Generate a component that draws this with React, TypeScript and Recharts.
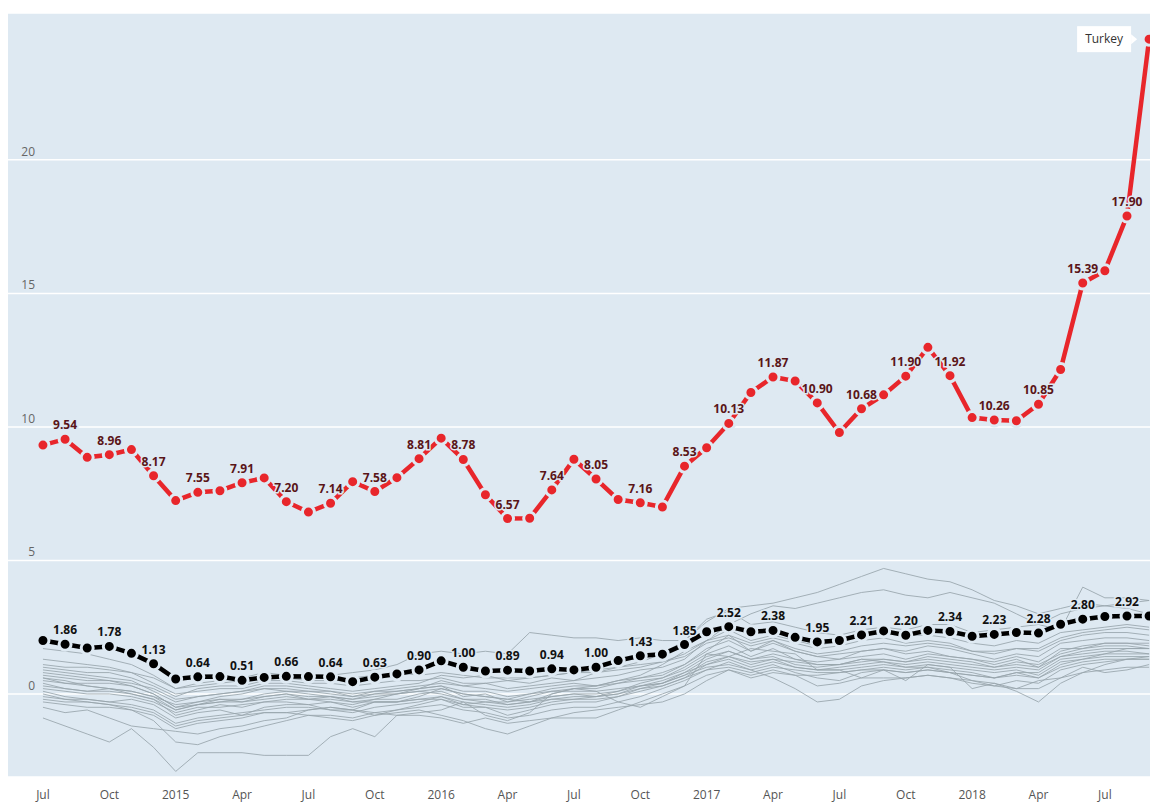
import React from "react";
import { LineChart, Line, XAxis, YAxis, CartesianGrid, LabelList } from "recharts";

// Months: index 0 = Jul 2014 ... index 50 = Sep 2018
const monthIndex: number[] = Array.from({ length: 51 }, (_, i) => i);

const xTickIndex = [0, 3, 6, 9, 12, 15, 18, 21, 24, 27, 30, 33, 36, 39, 42, 45, 48];
const xTickLabels = ["Jul", "Oct", "2015", "Apr", "Jul", "Oct", "2016", "Apr", "Jul", "Oct", "2017", "Apr", "Jul", "Oct", "2018", "Apr", "Jul"];
const yTicks = [0, 5, 10, 15, 20];

const turkey = [
  9.32, 9.54, 8.86, 8.96, 9.15, 8.17,
  7.24, 7.55, 7.61, 7.91, 8.09, 7.2, 6.81, 7.14, 7.95, 7.58, 8.1, 8.81,
  9.58, 8.78, 7.46, 6.57, 6.58, 7.64, 8.79, 8.05, 7.28, 7.16, 7.0, 8.53,
  9.22, 10.13, 11.29, 11.87, 11.72, 10.9, 9.79, 10.68, 11.2, 11.9, 12.98, 11.92,
  10.35, 10.26, 10.23, 10.85, 12.15, 15.39, 15.85, 17.9, 24.52,
];

const reference = [
  2.0, 1.86, 1.72, 1.78, 1.52, 1.13,
  0.56, 0.64, 0.65, 0.51, 0.62, 0.66, 0.65, 0.64, 0.46, 0.63, 0.75, 0.9,
  1.24, 1.0, 0.86, 0.89, 0.86, 0.94, 0.9, 1.0, 1.25, 1.43, 1.49, 1.85,
  2.33, 2.52, 2.33, 2.38, 2.12, 1.95, 2.0, 2.21, 2.36, 2.2, 2.38, 2.34,
  2.16, 2.23, 2.3, 2.28, 2.61, 2.8, 2.9, 2.92, 2.92,
];

const grey01 = [1.7,1.6,1.5,1.3,1.1,0.7, 0.2,0.4,0.5,0.6,0.8,0.7,0.6,0.7,0.8,0.9,1.1,1.5, 1.6,1.5,1.6,1.5,2.3,2.2,2.1,2.1,2.0,2.1,2.0,2.0, 2.8,3.1,2.6,2.7,2.5,2.3,2.2,2.4,2.5,2.4,2.6,2.6, 2.3,2.4,2.5,2.6,3.0,3.2,3.3,3.4,3.5];
const grey02 = [0.6,0.4,0.3,0.2,0.1,-0.1, -0.6,-0.4,-0.2,-0.3,-0.1,0.0,-0.2,-0.1,-0.3,-0.2,0.0,0.2, 0.5,0.3,0.4,0.5,0.4,0.6,0.5,0.8,1.0,1.2,1.5,2.0, 2.7,3.2,3.3,3.4,3.6,3.8,4.1,4.4,4.7,4.5,4.3,4.2, 3.9,3.5,3.3,3.0,3.2,3.4,3.3,3.2,3.0];
const grey03 = [0.1,-0.1,-0.2,-0.3,-0.2,-0.4, -0.9,-0.7,-0.6,-0.8,-0.5,-0.4,-0.4,-0.6,-0.6,-0.3,-0.3,-0.1, 0.2,0.0,-0.1,-0.2,-0.3,0.0,0.2,0.3,0.5,0.7,1.1,1.6, 2.0,2.6,3.0,3.3,3.2,3.4,3.6,3.8,3.9,3.7,3.6,3.8, 3.6,3.4,3.0,2.6,2.4,4.0,3.6,3.6,3.5];
const grey04 = [-0.9,-1.2,-1.5,-1.8,-1.3,-2.0, -2.9,-2.2,-2.2,-2.2,-2.3,-2.3,-2.3,-1.6,-1.3,-1.6,-0.8,-0.7, -0.6,-0.3,-0.8,-1.0,-0.7,0.0,0.2,0.1,-0.3,-0.5,-0.1,0.3, 1.5,1.4,1.7,1.6,1.5,0.9,0.9,0.6,0.9,0.5,1.1,1.0, 0.2,0.4,0.2,0.5,0.6,1.0,0.8,0.9,1.1];
const grey05 = [0.9,0.8,0.7,0.6,0.5,0.1, -0.3,-0.1,0.0,0.1,0.3,0.3,0.2,0.1,0.0,0.1,0.2,0.3, 0.4,0.3,0.2,0.1,0.2,0.3,0.4,0.3,0.5,0.6,0.8,1.1, 1.7,2.0,1.6,1.9,1.6,1.4,1.5,1.6,1.7,1.6,1.8,1.7, 1.5,1.3,1.5,1.4,1.9,2.0,2.1,2.1,2.0];
const grey06 = [0.5,0.4,0.4,0.4,0.3,0.0, -0.5,-0.3,-0.1,0.0,0.2,0.2,0.1,0.1,-0.1,0.1,0.1,0.2, 0.3,-0.1,0.0,-0.3,-0.1,0.1,0.2,0.2,0.4,0.6,0.7,1.1, 1.6,2.2,1.6,2.0,1.6,1.4,1.3,1.6,1.7,1.5,1.6,1.4, 1.3,1.2,1.4,1.2,1.7,1.7,1.9,1.9,1.8];
const grey07 = [0.2,0.1,0.0,0.0,-0.1,-0.3, -0.7,-0.5,-0.5,-0.4,-0.3,-0.3,-0.4,-0.3,-0.5,-0.3,-0.3,-0.2, -0.2,-0.5,-0.5,-0.8,-0.6,-0.4,-0.3,-0.3,-0.1,0.2,0.4,0.8, 1.3,1.6,1.3,1.4,1.1,1.0,1.1,1.3,1.3,1.2,1.4,1.3, 1.2,1.0,1.2,1.1,1.5,1.7,1.8,1.8,1.7];
const grey08 = [1.0,0.9,0.8,0.8,0.6,0.3, -0.1,0.2,0.3,0.3,0.5,0.5,0.4,0.4,0.3,0.4,0.5,0.5, 0.6,0.4,0.4,0.2,0.3,0.4,0.5,0.6,0.7,0.9,1.0,1.3, 2.0,2.2,1.9,2.1,1.9,1.7,1.8,2.0,2.1,1.9,2.0,1.9, 1.6,1.6,1.7,1.6,2.0,2.2,2.3,2.3,2.2];
const grey09 = [-0.3,-0.4,-0.5,-0.5,-0.6,-0.8, -1.3,-1.1,-1.0,-0.9,-0.7,-0.7,-0.8,-0.8,-0.9,-0.7,-0.6,-0.5, -0.4,-0.6,-0.7,-0.9,-0.8,-0.6,-0.5,-0.5,-0.3,-0.1,0.2,0.5, 0.9,1.2,0.9,1.1,0.8,0.6,0.5,0.8,0.9,0.8,0.9,0.8, 0.7,0.6,0.8,0.6,1.1,1.3,1.4,1.4,1.4];
const grey10 = [0.4,0.2,0.1,0.2,0.0,-0.2, -0.8,-0.6,-0.4,-0.5,-0.3,-0.2,-0.2,-0.3,-0.4,-0.2,-0.2,0.0, 0.1,-0.2,-0.3,-0.4,-0.3,-0.1,0.0,0.0,0.1,0.4,0.6,1.0, 1.5,1.8,1.4,1.7,1.3,1.2,1.3,1.4,1.5,1.3,1.5,1.4, 1.3,1.1,1.3,1.0,1.6,1.8,1.9,1.9,1.9];
const grey11 = [-0.5,-0.7,-0.6,-0.9,-1.2,-1.3, -1.4,-1.5,-1.3,-1.2,-1.0,-0.9,-0.6,-0.5,-0.6,-0.8,-0.7,-0.6, -0.8,-1.0,-1.3,-1.5,-1.2,-0.9,-0.7,-0.6,-0.5,-0.4,-0.3,0.0, 0.5,0.9,0.7,0.9,0.7,0.3,0.4,0.6,0.6,0.6,0.7,0.6, 0.4,0.3,0.5,0.4,0.9,1.1,1.2,1.3,1.3];
const grey12 = [0.0,-0.2,-0.3,-0.4,-0.6,-1.0, -1.8,-1.9,-1.6,-1.4,-1.2,-1.0,-0.8,-0.9,-1.0,-0.8,-0.6,-0.4, -0.2,-0.4,-0.5,-0.6,-0.5,-0.3,-0.2,-0.1,0.0,0.3,0.4,0.7, 1.2,1.4,1.2,1.3,1.0,0.9,1.0,1.1,1.2,1.1,1.2,1.1, 1.0,0.9,1.0,0.9,1.4,1.5,1.6,1.6,1.5];
const grey13 = [1.3,1.2,1.1,1.0,0.8,0.4, 0.0,0.1,0.2,0.2,0.4,0.4,0.3,0.2,0.1,0.2,0.3,0.4, 0.7,0.6,0.7,0.5,0.6,0.7,0.8,0.9,1.0,1.1,1.2,1.5, 2.0,2.4,2.0,2.2,2.0,1.8,2.0,2.2,2.3,2.2,2.2,2.1, 1.9,1.8,2.0,1.9,2.3,2.4,2.5,2.6,2.5];
const grey14 = [0.3,0.2,0.1,0.1,0.0,-0.2, -0.6,-0.4,-0.3,-0.2,-0.1,0.0,-0.1,-0.1,-0.2,0.0,0.0,0.1, 0.2,0.0,-0.1,-0.2,0.0,0.1,0.1,0.1,0.2,0.3,0.4,0.7, 1.0,1.1,0.9,0.6,0.2,-0.3,-0.2,0.3,0.5,0.6,0.7,0.6, 0.5,0.3,0.2,0.2,0.6,0.8,0.9,1.0,1.0];
const grey15 = [0.7,0.6,0.5,0.5,0.4,0.2, -0.2,-0.1,0.0,0.1,0.2,0.1,0.1,0.0,-0.1,0.0,0.1,0.2, 0.3,0.1,0.1,-0.1,0.0,0.2,0.3,0.3,0.4,0.5,0.6,0.9, 1.4,1.6,1.3,1.5,1.3,1.1,1.1,1.3,1.2,1.0,1.0,0.8, 0.5,0.4,0.1,-0.3,0.4,0.8,1.1,1.3,1.4];
const grey16 = [-0.1,-0.2,-0.2,-0.3,-0.4,-0.6, -1.1,-0.9,-0.8,-0.7,-0.6,-0.5,-0.5,-0.6,-0.7,-0.5,-0.4,-0.3, -0.1,-0.3,-0.4,-0.5,-0.4,-0.2,-0.1,-0.1,0.1,0.3,0.5,0.8, 1.1,1.3,1.0,1.2,1.0,0.9,0.9,1.0,1.1,1.0,1.1,1.0, 0.9,0.8,0.9,0.7,1.2,1.3,1.5,1.5,1.5];
const grey17 = [-0.2,-0.3,-0.3,-0.4,-0.5,-0.7, -1.2,-1.0,-0.9,-0.8,-0.7,-0.7,-0.6,-0.5,-0.6,-0.7,-0.8,-0.8, -0.9,-1.1,-0.9,-1.1,-1.0,-0.9,-0.9,-0.9,-0.6,-0.3,0.0,0.3, 0.7,0.9,0.6,0.8,0.7,0.7,0.8,0.9,1.0,0.9,1.0,0.9, 0.8,0.6,0.7,0.6,1.0,1.2,1.3,1.3,1.3];
const grey18 = [1.1,1.0,1.0,0.9,0.8,0.6, 0.2,0.3,0.4,0.5,0.6,0.6,0.5,0.5,0.6,0.7,0.8,0.7, 0.8,0.7,0.6,0.6,0.6,0.7,0.8,0.8,0.9,1.0,1.2,1.4, 1.9,2.1,1.8,2.0,1.7,1.5,1.6,1.8,1.9,1.8,1.9,1.8, 1.6,1.5,1.7,1.7,2.1,2.3,2.4,2.5,2.4];
const grey19 = [0.6,0.5,0.3,0.2,0.1,-0.1, -0.4,-0.3,-0.2,-0.2,0.0,0.1,0.0,-0.1,-0.2,-0.1,0.0,0.1, 0.0,-0.2,-0.2,-0.4,-0.3,-0.2,-0.2,-0.2,-0.1,0.1,0.3,0.6, 0.9,1.0,0.8,1.0,0.9,0.8,0.8,0.9,0.9,0.8,0.9,0.8, 0.7,0.6,0.8,0.8,1.3,1.4,1.5,1.7,1.7];
const grey20 = [0.8,0.7,0.6,0.5,0.3,0.0, -0.5,-0.4,-0.3,-0.3,-0.2,-0.1,-0.2,-0.2,-0.3,-0.3,-0.3,-0.2, -0.1,-0.4,-0.3,-0.3,-0.2,-0.1,0.0,-0.1,0.0,0.2,0.3,0.6, 1.1,1.4,1.1,1.3,1.2,1.1,1.1,1.2,1.3,1.2,1.3,1.2, 1.1,1.0,1.1,1.0,1.4,1.6,1.7,1.7,1.7];

const greySeries = [grey01, grey02, grey03, grey04, grey05, grey06, grey07, grey08, grey09, grey10,
  grey11, grey12, grey13, grey14, grey15, grey16, grey17, grey18, grey19, grey20];

const data = monthIndex.map((i) => {
  const row: Record<string, number> = { i, turkey: turkey[i], reference: reference[i] };
  greySeries.forEach((s, k) => { row["g" + k] = s[i]; });
  return row;
});

const BG = "#dee9f2";
const FONT = "'Open Sans', 'Noto Sans', sans-serif";

const YTick = (props: any) => {
  const { y, payload } = props;
  return (
    <text x={35} y={y - 4} textAnchor="end" fontSize={12} fill="#666" fontFamily={FONT}>
      {payload.value}
    </text>
  );
};

const XTick = (props: any) => {
  const { x, y, payload } = props;
  const k = xTickIndex.indexOf(payload.value);
  return (
    <text x={x} y={y + 14} textAnchor="middle" fontSize={12} fill="#555" fontFamily={FONT}>
      {k >= 0 ? xTickLabels[k] : ""}
    </text>
  );
};

const makeLabel = (color: string, withTag: boolean) => (props: any) => {
  const { x, y, value, index } = props;
  if (withTag && index === 50) {
    const w = 54, h = 26;
    const rx = x - 18 - w;
    return (
      <g>
        <rect x={rx} y={y - h / 2} width={w} height={h} fill="#fff" />
        <path d={`M ${x - 18} ${y - 5} L ${x - 12} ${y} L ${x - 18} ${y + 5} Z`} fill="#fff" />
        <text x={rx + w / 2} y={y + 4} textAnchor="middle" fontSize={12} fill="#333" fontFamily={FONT}>
          Turkey
        </text>
      </g>
    );
  }
  if (index % 2 !== 1) return null;
  return (
    <text
      x={x}
      y={y - 10}
      textAnchor="middle"
      fontSize={12}
      fontWeight={700}
      fill={color}
      fontFamily={FONT}
      stroke={BG}
      strokeWidth={3}
      paintOrder="stroke"
    >
      {Number(value).toFixed(2)}
    </text>
  );
};

export default function App() {
  return (
    <div style={{ width: 1150, height: 804, background: "#fff", overflow: "hidden" }}>
      <style>{`html,body{margin:0;padding:0;overflow:hidden;}`}</style>
      <LineChart
        width={1150}
        height={804}
        data={data}
        margin={{ top: 13, right: 0, left: 8, bottom: 0 }}
      >
        <CartesianGrid vertical={false} stroke="#ffffff" strokeWidth={1.5} fill={BG} fillOpacity={1} />
        <XAxis
          dataKey="i"
          type="number"
          domain={[-1.58, 50.04]}
          allowDataOverflow
          ticks={xTickIndex}
          tick={<XTick />}
          axisLine={false}
          tickLine={false}
          height={27}
          interval={0}
        />
        <YAxis
          type="number"
          domain={[-3.11, 25.5]}
          allowDataOverflow
          ticks={yTicks}
          tick={<YTick />}
          axisLine={false}
          tickLine={false}
          width={40}
          mirror
        />
        {greySeries.map((_, k) => (
          <Line
            key={"g" + k}
            dataKey={"g" + k}
            type="linear"
            stroke="#98a4ac"
            strokeWidth={1}
            strokeOpacity={0.85}
            dot={false}
            isAnimationActive={false}
          />
        ))}
        <Line
          dataKey="reference"
          type="linear"
          stroke="#000"
          strokeWidth={4.5}
          dot={{ r: 6, fill: "#000", stroke: BG, strokeWidth: 3 }}
          isAnimationActive={false}
        >
          <LabelList dataKey="reference" content={makeLabel("#111", false)} />
        </Line>
        <Line
          dataKey="turkey"
          type="linear"
          stroke="#e8262b"
          strokeWidth={4.5}
          dot={{ r: 6, fill: "#e8262b", stroke: BG, strokeWidth: 3 }}
          isAnimationActive={false}
        >
          <LabelList dataKey="turkey" content={makeLabel("#5a1518", true)} />
        </Line>
      </LineChart>
    </div>
  );
}
